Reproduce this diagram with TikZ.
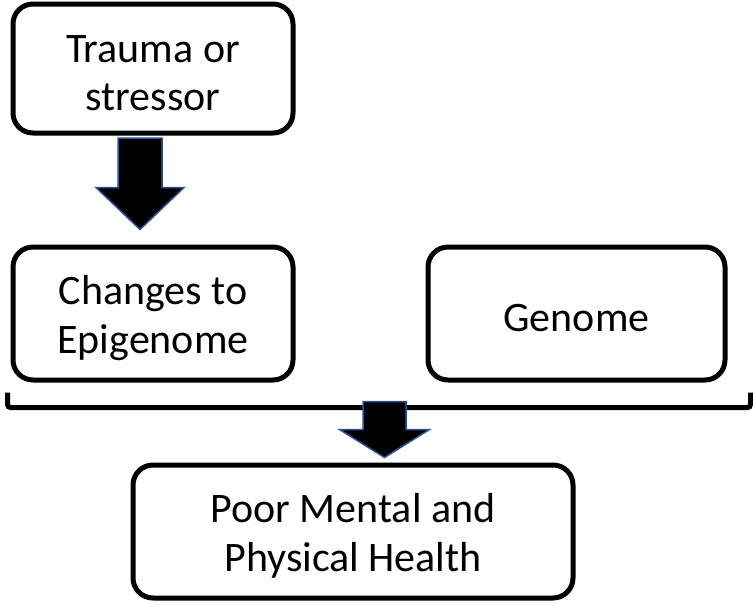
\documentclass[tikz,border=0pt]{standalone}
\usepackage{fontspec}
\setmainfont{Carlito}
\usetikzlibrary{calc}
\definecolor{arrowedge}{HTML}{2F528F}
\tikzstyle{box}=[draw,line width=5pt,rounded corners=20pt,inner sep=0pt]
\tikzstyle{boxtext}=[align=center,inner sep=0pt,yshift=-4.5pt,font=\fontsize{42}{48.5}\selectfont]
\tikzstyle{blockarrow}=[draw=arrowedge,fill=black,line width=1.5pt,line join=miter]
\tikzstyle{bracket}=[draw,line width=5pt,rounded corners=3pt]

\begin{document}
\begin{tikzpicture}[x=1pt,y=-1pt]
    \useasboundingbox (0,0) rectangle (753,606);

    % First the boxes
    \foreach \pos/\name/\w/\h/\txt in {{(153,68.5)/trauma/280/129/{Trauma or\\stressor}},
        {(153,313.5)/changes/280/133/{Changes to\\Epigenome}},
        {(576.5,313.5)/genome/297/133/{Genome}},
        {(353,531.5)/health/440/133/{Poor Mental and\\Physical Health}}}
        \node[box,minimum width=\w pt,minimum height=\h pt,label={[boxtext]center:\txt}] (\name) at \pos {};

    % Bracket under the middle row
    \coordinate (bl) at ($(changes.south west)+(-3,25)$);
    \coordinate (br) at ($(genome.south east)+(23,25)$);
    \path[bracket] ($(bl)+(0,-15)$) -- (bl) -- (br) -- ($(br)+(0,-15)$);

    % Ends of the block arrows
    \coordinate (top1) at ($(trauma.south)+(-13,2.5)$);
    \coordinate (tip1) at ($(changes.north)+(-13,-15)$);
    \coordinate (top2) at ($(health.north)+(31.5,-61)$);
    \coordinate (tip2) at ($(health.north)+(31.5,-5)$);

    % Block arrows: shaft half width / head half width / head length
    \foreach \n/\sw/\hw/\hl in {1/22/44/42, 2/21.5/45/28}
        \draw[blockarrow] ($(top\n)+(-\sw,0)$) -- ($(tip\n)+(-\sw,-\hl)$ |- top\n) -- ($(tip\n)+(-\sw,-\hl)$)
            -- ($(tip\n)+(-\hw,-\hl)$) -- (tip\n) -- ($(tip\n)+(\hw,-\hl)$)
            -- ($(tip\n)+(\sw,-\hl)$) -- ($(top\n)+(\sw,0)$) -- cycle;

\end{tikzpicture}
\end{document}
